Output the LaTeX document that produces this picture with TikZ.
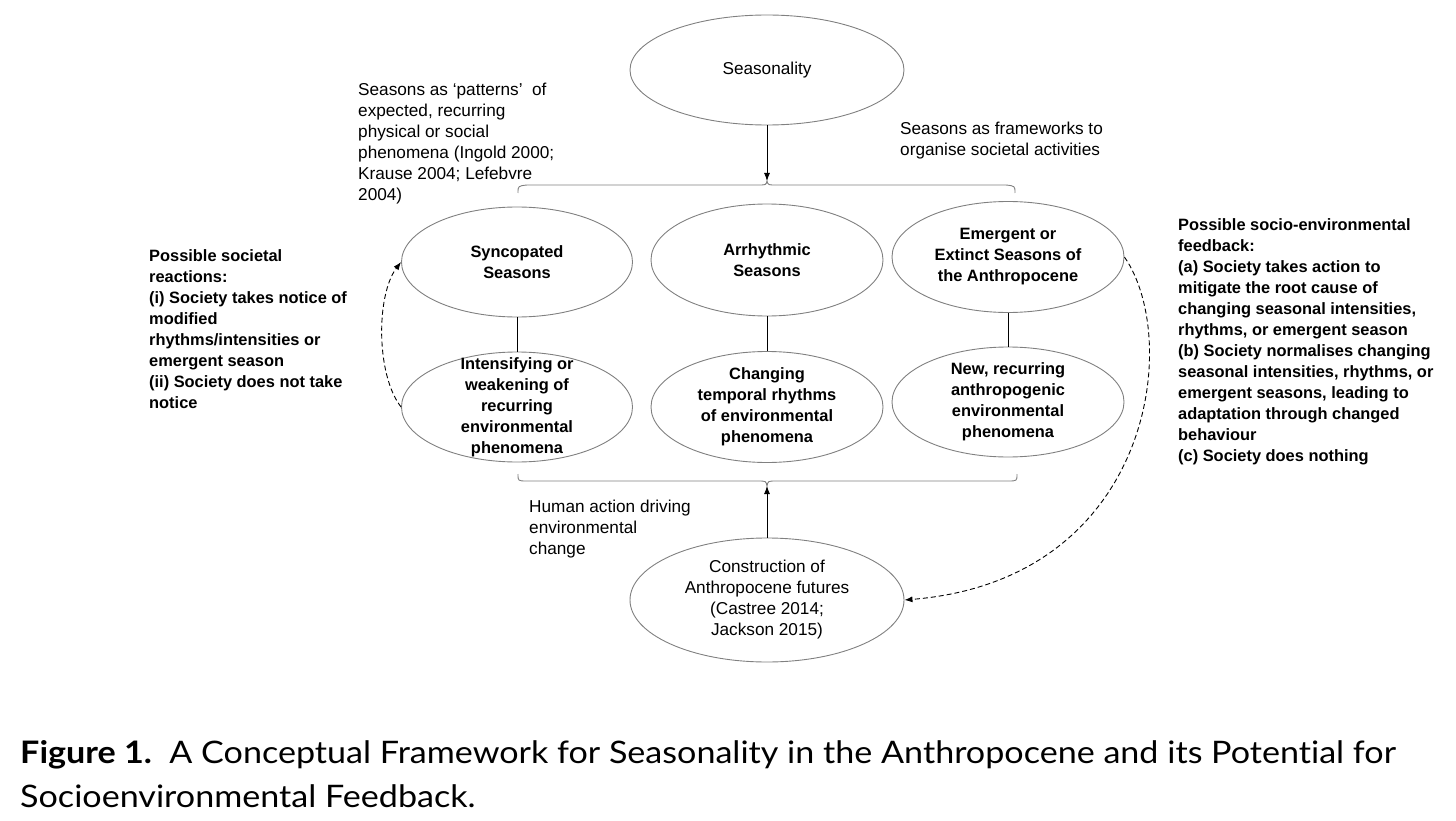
\documentclass[tikz,border=0pt]{standalone}
\usepackage{fontspec}
\setmainfont{Liberation Sans}
\newfontfamily\capfont[Ligatures=NoCommon]{Lato}
\usetikzlibrary{shapes.geometric,arrows.meta}
\tikzset{
  oval/.style={ellipse,draw=black!50,line width=0.9pt,inner sep=-40pt,align=center},
  plain/.style={font=\fontsize{17.2}{21}\selectfont},
  boldt/.style={font=\fontsize{16.4}{21}\selectfont\bfseries},
  blocktext/.style={align=left,inner sep=0pt,anchor=north west},
  link/.style={draw=black,line width=0.9pt},
  arr/.style={line width=0.9pt,-{Latex[length=8pt,width=6pt]}},
  darr/.style={line width=0.9pt,dashed,dash pattern=on 5pt off 3pt,-{Latex[length=8pt,width=6pt]}},
  brace/.style={draw=black!50,line width=0.9pt},
}
\begin{document}
\begin{tikzpicture}[x=1pt,y=-1pt]
\useasboundingbox (0,0) rectangle (1456,821);
% ellipses
\node[oval,plain,minimum width=274,minimum height=110] (seas) at (767,70) {Seasonality};
\node[oval,boldt,minimum width=231,minimum height=110] (sync) at (517,262) {Syncopated\\Seasons};
\node[oval,boldt,minimum width=232,minimum height=112] (arr) at (767,260) {Arrhythmic\\Seasons};
\node[oval,boldt,minimum width=232,minimum height=111] (emer) at (1008,257) {Emergent or\\Extinct Seasons of\\the Anthropocene};
\node[oval,boldt,minimum width=231,minimum height=110] (inte) at (517,407) {Intensifying or\\weakening of\\recurring\\environmental\\phenomena};
\node[oval,boldt,minimum width=232,minimum height=111] (chan) at (767,407) {Changing\\temporal rhythms\\of environmental\\phenomena};
\node[oval,boldt,minimum width=232,minimum height=110] (newr) at (1008,402) {New, recurring\\anthropogenic\\environmental\\phenomena};
\node[oval,plain,minimum width=274,minimum height=124] (cons) at (767,600) {Construction of\\Anthropocene futures\\(Castree 2014;\\Jackson 2015)};
% vertical links
\draw[link] (sync) -- (inte);
\draw[link] (arr) -- (chan);
\draw[link] (emer) -- (newr);
% braces
\coordinate (toptip) at (767,181);
\coordinate (bottip) at (767,486);
\draw[brace] (518,193) .. controls (518,186) .. (527,185) -- (758,185) .. controls (766,185) .. (toptip) .. controls (768,185) .. (776,185) -- (1006,185) .. controls (1015,186) .. (1015,193);
\draw[brace] (518,474) .. controls (518,481) .. (527,481) -- (758,481) .. controls (766,481) .. (bottip) .. controls (768,481) .. (776,481) -- (1008,481) .. controls (1017,481) .. (1017,474);
\draw[arr] (seas) -- (toptip);
\draw[arr] (cons) -- (bottip);
% dashed feedback
\draw[darr] (inte.west) .. controls (376,375) and (376,295) .. (sync.west);
\draw[darr] (emer.east) .. controls (1182,340) and (1152,580) .. (cons.east);
% texts
\node[plain,blocktext] (t1) at (358,83) {Seasons as `patterns'\ \ of\\expected, recurring\\physical or social\\phenomena (Ingold 2000;\\Krause 2004; Lefebvre\\2004)};
\node[plain,blocktext] (t2) at (900,122) {Seasons as frameworks to\\organise societal activities};
\node[boldt,blocktext] (t3) at (149,249) {Possible societal\\reactions:\\(i) Society takes notice of\\modified\\rhythms/intensities or\\emergent season\\(ii) Society does not take\\notice};
\node[boldt,blocktext] (t4) at (1178,218) {Possible socio-environmental\\feedback:\\(a) Society takes action to\\mitigate the root cause of\\changing seasonal intensities,\\rhythms, or emergent season\\(b) Society normalises changing\\seasonal intensities, rhythms, or\\emergent seasons, leading to\\adaptation through changed\\behaviour\\(c) Society does nothing};
\node[plain,blocktext] (t5) at (529,500) {Human action driving\\environmental\\change};
% caption
\node[blocktext,font=\fontsize{31}{44}\selectfont\capfont] (cap) at (20,740) {\scalebox{1.1}[1]{\textbf{Figure 1.}\ \ A Conceptual Framework for Seasonality in the Anthropocene and its Potential for}\\\scalebox{1.1}[1]{Socioenvironmental Feedback.}};
\end{tikzpicture}
\end{document}
